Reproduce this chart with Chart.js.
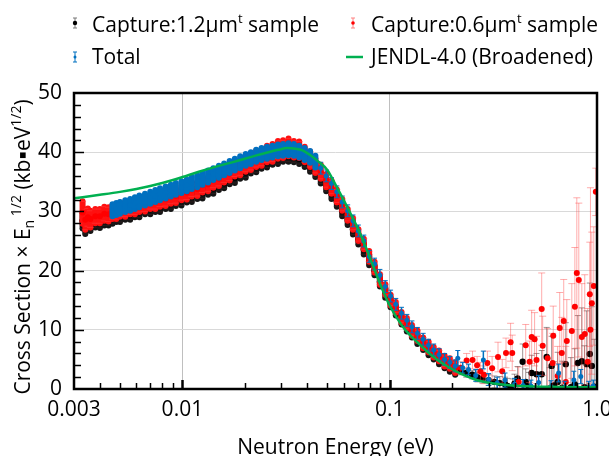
<!DOCTYPE html>
<html>
<head>
<meta charset="utf-8">
<script src="https://cdn.jsdelivr.net/npm/chart.js@4.4.1/dist/chart.umd.min.js"></script>
<style>
  html,body{margin:0;padding:0;background:#fff;}
  #cadre{width:609px;height:456px;}
</style>
</head>
<body>
<div id="cadre"><canvas id="graphe" width="609" height="456"></canvas></div>
<script>
/* ================= données ================= */
const xTicks = [0.003, 0.01, 0.1, 1];
const xTickLabels = ['0.003', '0.01', '0.1', '1.0'];

/* énergies communes (région dense) pour les deux captures */
const energyMain = [
  0.0033, 0.0034, 0.0035, 0.0036, 0.0038, 0.0040, 0.0042, 0.0044, 0.0046, 0.0048,
  0.0050, 0.0053, 0.0056, 0.0059, 0.0062, 0.0066, 0.0070, 0.0074, 0.0078, 0.0083,
  0.0088, 0.0093, 0.0099, 0.0105, 0.0111, 0.0118, 0.0125, 0.0133, 0.0141, 0.0150,
  0.0159, 0.0169, 0.0179, 0.0190, 0.0202, 0.0214, 0.0227, 0.0241, 0.0256, 0.0272,
  0.0289, 0.0306, 0.0325, 0.0345, 0.0366, 0.0389, 0.0413, 0.0438, 0.0465, 0.0494,
  0.0524, 0.0556, 0.0590, 0.0627, 0.0665, 0.0706, 0.0750, 0.0796, 0.0845, 0.0897,
  0.0952, 0.101, 0.107, 0.114, 0.121, 0.128, 0.136, 0.145, 0.154, 0.163,
  0.173, 0.184, 0.195, 0.207
];

/* Capture 1.2 µm */
const cap12Main = [
  28.4, 27.3, 27.8, 27.6, 28.2, 28.1, 28.5, 28.5, 28.8, 29.1,
  29.1, 29.5, 29.5, 29.9, 29.9, 30.4, 30.4, 30.8, 30.8, 31.3,
  31.3, 31.8, 31.9, 32.4, 32.5, 33.0, 33.1, 33.7, 33.9, 34.5,
  34.8, 35.5, 35.7, 36.4, 36.6, 37.3, 37.5, 38.1, 38.3, 38.8,
  38.9, 39.3, 39.3, 39.2, 38.9, 38.4, 37.6, 36.7, 35.6, 34.3,
  33.0, 31.7, 30.1, 28.6, 27.0, 25.3, 23.6, 21.8, 20.0, 18.1,
  16.2, 14.6, 13.2, 11.7, 10.5, 9.5, 8.4, 7.4, 6.5, 5.8,
  5.0, 4.3, 3.7, 3.2
];
const cap12MainErr = [
  1.3, 1.1, 1.0, 0.9, 0.9, 0.9, 0.9, 0.9, 0.9, 0.9,
  0.9, 0.9, 0.9, 0.9, 0.9, 0.9, 0.9, 0.9, 0.9, 0.9,
  0.9, 0.9, 0.9, 0.9, 0.9, 0.9, 0.9, 0.9, 0.9, 0.9,
  0.9, 0.9, 0.9, 0.9, 0.9, 0.9, 0.9, 0.9, 0.9, 0.9,
  0.9, 0.9, 0.9, 0.9, 0.9, 0.9, 0.9, 0.9, 0.9, 0.9,
  0.9, 0.9, 0.9, 0.9, 0.9, 0.9, 0.9, 0.9, 0.8, 0.8,
  0.8, 0.8, 0.8, 0.8, 0.8, 0.8, 0.8, 0.8, 0.8, 0.8,
  0.8, 0.8, 0.8, 0.8
];
const energyCap12Tail = [
  0.22, 0.234, 0.25, 0.265, 0.28, 0.30, 0.32, 0.34, 0.36, 0.37,
  0.392, 0.40, 0.414, 0.438, 0.453, 0.47, 0.484, 0.511, 0.541, 0.572,
  0.591, 0.604, 0.62, 0.646, 0.68, 0.707, 0.748, 0.78, 0.808, 0.845,
  0.87, 0.892, 0.923, 0.944, 0.97
];
const cap12Tail = [
  3.0, 2.7, 2.4, 2.0, 1.8, 1.5, 1.2, 1.0, 0.8, 0.5,
  0.2, 0.9, 1.8, 4.6, 1.2, 0.4, 2.7, 2.5, 2.5, 5.4,
  0.1, 3.9, 0.6, 1.2, 0.2, 4.2, 0.3, 0.8, 4.4, 4.7,
  0.3, 4.2, 5.9, 3.9, 0.4
];
const cap12TailErr = [
  0.6, 0.7, 0.7, 0.8, 0.8, 0.9, 1.0, 1.1, 1.2, 1.3,
  1.5, 1.6, 2.0, 3.0, 2.2, 2.4, 3.0, 3.5, 4.0, 5.0,
  3.5, 5.0, 4.0, 5.0, 4.5, 7.0, 5.0, 6.0, 8.0, 9.0,
  7.0, 9.0, 12.0, 10.0, 8.0
];

/* Capture 0.6 µm */
const cap06Main = [
  29.8, 28.6, 29.0, 28.7, 29.2, 29.2, 29.6, 29.5, 29.9, 29.9,
  30.3, 30.3, 30.7, 30.7, 31.1, 31.2, 31.6, 31.6, 32.0, 32.1,
  32.5, 32.6, 33.1, 33.2, 33.7, 33.8, 34.4, 34.6, 35.2, 35.5,
  36.1, 36.4, 37.1, 37.4, 38.0, 38.3, 38.9, 39.1, 39.7, 39.9,
  40.4, 40.5, 40.8, 40.5, 40.4, 39.6, 38.8, 37.7, 36.7, 35.2,
  34.1, 32.6, 31.1, 29.4, 27.9, 26.0, 24.5, 22.4, 20.6, 18.5,
  16.8, 15.0, 13.8, 12.1, 11.1, 9.9, 9.0, 7.8, 7.1, 6.2,
  5.6, 4.7, 4.3, 3.6
];
const cap06MainErr = [
  1.9, 1.7, 1.5, 1.4, 1.2, 1.2, 1.2, 1.2, 1.2, 1.2,
  1.2, 1.2, 1.2, 1.2, 1.2, 1.2, 1.2, 1.2, 1.2, 1.2,
  1.2, 1.2, 1.2, 1.2, 1.2, 1.2, 1.2, 1.2, 1.2, 1.2,
  1.2, 1.2, 1.2, 1.3, 1.3, 1.3, 1.4, 1.4, 1.4, 1.5,
  1.5, 1.5, 1.5, 1.4, 1.4, 1.3, 1.3, 1.2, 1.2, 1.1,
  1.1, 1.1, 1.0, 1.0, 1.0, 1.0, 0.9, 0.9, 0.9, 0.9,
  0.9, 0.9, 0.9, 0.9, 0.9, 0.9, 0.9, 0.9, 0.9, 0.9,
  0.9, 0.9, 0.9, 0.9
];
const energyCap06Tail = [
  0.22, 0.235, 0.251, 0.264, 0.274, 0.285, 0.296, 0.312, 0.333, 0.349,
  0.364, 0.383, 0.39, 0.419, 0.453, 0.473, 0.484, 0.50, 0.511, 0.541,
  0.547, 0.578, 0.611, 0.615, 0.646, 0.661, 0.676, 0.691, 0.707, 0.715,
  0.756, 0.782, 0.799, 0.817, 0.845, 0.873, 0.902, 0.923, 0.93, 0.944,
  0.965, 0.987
];
const cap06Tail = [
  3.6, 4.8, 4.9, 4.0, 3.0, 2.4, 4.4, 3.5, 5.4, 3.0,
  6.1, 7.9, 6.1, 1.2, 7.4, 4.6, 8.8, 8.4, 4.9, 13.5,
  7.3, 5.2, 4.4, 9.0, 2.2, 10.3, 6.1, 11.5, 1.2, 8.1,
  9.8, 13.9, 19.6, 18.4, 8.8, 9.3, 4.6, 16.0, 10.0, 14.5,
  17.4, 33.3
];
const cap06TailErr = [
  1.0, 1.2, 1.5, 1.5, 1.5, 1.5, 2.0, 2.0, 2.5, 2.0,
  2.5, 3.2, 3.0, 2.5, 3.5, 3.5, 4.5, 4.5, 4.0, 6.1,
  5.0, 5.0, 5.0, 5.0, 5.0, 6.0, 6.0, 7.0, 6.0, 7.0,
  8.0, 10.0, 12.7, 13.0, 9.0, 10.0, 9.0, 8.8, 24.0, 12.0,
  10.0, 4.0
];

/* Total */
const energyTotal = [
  0.0046, 0.0048, 0.0050, 0.0053, 0.0056, 0.0059, 0.0062, 0.0066, 0.0070, 0.0074,
  0.0078, 0.0083, 0.0088, 0.0093, 0.0099, 0.0105, 0.0111, 0.0118, 0.0125, 0.0133,
  0.0141, 0.0150, 0.0159, 0.0169, 0.0179, 0.0190, 0.0202, 0.0214, 0.0227, 0.0241,
  0.0256, 0.0272, 0.0289, 0.0306, 0.0325, 0.0345, 0.0366, 0.0389, 0.0413, 0.0438,
  0.0465, 0.0494, 0.0524, 0.0556, 0.0590, 0.0627, 0.0665, 0.0706, 0.0750, 0.0796,
  0.0845, 0.0897, 0.0952, 0.101, 0.107, 0.114, 0.121, 0.128, 0.136, 0.145,
  0.154, 0.163, 0.173, 0.184, 0.195, 0.207, 0.213, 0.225, 0.24, 0.26,
  0.283, 0.30, 0.33, 0.36, 0.40, 0.44, 0.48, 0.523, 0.60, 0.653,
  0.70, 0.773, 0.835, 0.912, 0.96
];
const total = [
  30.2, 30.4, 30.6, 30.9, 31.1, 31.4, 31.7, 32.0, 32.3, 32.6,
  32.9, 33.2, 33.5, 33.8, 34.1, 34.4, 34.8, 35.1, 35.5, 35.9,
  36.3, 36.7, 37.1, 37.5, 37.9, 38.3, 38.7, 39.0, 39.4, 39.7,
  39.9, 40.1, 40.3, 40.4, 40.5, 40.4, 40.1, 39.7, 39.2, 38.4,
  37.3, 36.0, 34.7, 33.3, 31.6, 30.1, 28.4, 26.7, 25.0, 22.4,
  21.1, 19.2, 17.3, 15.7, 14.3, 12.8, 11.6, 10.5, 9.4, 8.4,
  7.4, 6.6, 5.8, 5.0, 4.5, 3.9, 5.2, 3.6, 3.3, 2.3,
  4.9, 1.6, 1.0, 1.5, 0.8, 0.6, 0.5, 1.1, 0.4, 2.7,
  0.3, 1.5, 2.1, 0.3, 0.5
];
const totalErr = [
  1.0, 1.0, 1.0, 1.0, 1.0, 1.0, 1.0, 1.0, 1.0, 1.0,
  1.0, 1.0, 1.0, 1.0, 1.0, 1.0, 1.0, 1.0, 1.0, 1.0,
  1.0, 1.0, 1.0, 1.0, 1.0, 1.0, 1.0, 1.0, 1.0, 1.0,
  1.0, 1.0, 1.0, 1.0, 1.0, 1.0, 1.0, 1.0, 1.0, 1.0,
  1.0, 1.0, 1.0, 1.0, 1.0, 1.0, 1.0, 1.0, 1.0, 1.0,
  1.0, 1.0, 1.0, 1.0, 1.0, 1.0, 1.0, 1.0, 1.0, 1.0,
  1.0, 1.0, 1.0, 1.0, 1.0, 1.0, 1.3, 0.9, 0.9, 1.0,
  1.5, 1.0, 1.0, 1.2, 1.0, 1.0, 1.0, 1.2, 1.0, 1.5,
  1.0, 1.5, 1.2, 1.0, 1.0
];

/* JENDL-4.0 élargi */
const energyJendl = [
  0.003, 0.004, 0.005, 0.006, 0.007, 0.008, 0.009, 0.010, 0.012, 0.014,
  0.017, 0.020, 0.023, 0.026, 0.029, 0.032, 0.035, 0.038, 0.041, 0.045,
  0.050, 0.055, 0.060, 0.065, 0.070, 0.075, 0.080, 0.087, 0.093, 0.099,
  0.107, 0.117, 0.126, 0.136, 0.152, 0.170, 0.190, 0.220, 0.270, 0.340,
  0.430, 0.670, 1.0
];
const jendl = [
  32.2, 32.8, 33.3, 33.8, 34.3, 34.8, 35.3, 35.8, 36.7, 37.4,
  38.2, 38.9, 39.5, 40.0, 40.4, 40.7, 40.6, 40.3, 39.6, 38.5,
  37.0, 34.4, 31.9, 29.5, 27.2, 24.8, 22.3, 19.0, 16.5, 14.4,
  12.3, 10.3, 9.0, 7.9, 6.3, 4.9, 3.8, 2.6, 1.4, 0.8,
  0.5, 0.35, 0.3
];

/* ================= outils ================= */
const POLICE = '"Open Sans", Lato, sans-serif';
const pts = (xs, ys) => xs.map((x, i) => ({x, y: ys[i]}));

/* texte avec indices / exposants : segments [texte, taille, décalage vertical] */
function texteRiche(ctx, segs, x, y, centre){
  let w = 0;
  segs.forEach(s => { ctx.font = `${s[1]}px ${POLICE}`; w += ctx.measureText(s[0]).width; });
  let cx = centre ? x - w/2 : x;
  segs.forEach(s => { ctx.font = `${s[1]}px ${POLICE}`; ctx.fillText(s[0], cx, y + s[2]); cx += ctx.measureText(s[0]).width; });
}

function marqueErreur(ctx, x, y, h, couleurBarre, couleur, r){
  ctx.strokeStyle = couleurBarre; ctx.lineWidth = 1;
  ctx.beginPath();
  ctx.moveTo(x, y-h); ctx.lineTo(x, y+h);
  ctx.moveTo(x-2, y-h); ctx.lineTo(x+2, y-h);
  ctx.moveTo(x-2, y+h); ctx.lineTo(x+2, y+h);
  ctx.stroke();
  ctx.fillStyle = couleur;
  ctx.beginPath(); ctx.arc(x, y, r, 0, Math.PI*2); ctx.fill();
}

/* barres d'erreur dessinées juste avant les points de chaque série :
   épaisses dans la zone dense (bande continue), fines avec chapeaux ailleurs */
const barresErreur = {
  id: 'barresErreur',
  beforeDatasetDraw(chart, args){
    const ds = chart.data.datasets[args.index];
    if(!ds.erreurs) return;
    const {ctx, chartArea: a, scales: {x, y}} = chart;
    const c = ds.demiChapeau;
    ctx.save();
    ctx.beginPath(); ctx.rect(a.left, a.top, a.right - a.left, a.bottom - a.top); ctx.clip();
    ds.data.forEach((p, i) => {
      const e = ds.erreurs[i];
      if(!e) return;
      const px = x.getPixelForValue(p.x);
      const y1 = y.getPixelForValue(p.y + e), y2 = y.getPixelForValue(p.y - e);
      const dense = p.x < ds.limiteDense;
      ctx.strokeStyle = dense ? ds.couleurDense : ds.couleurErreur;
      ctx.lineWidth = dense ? ds.largeurDense : ds.largeurErreur;
      ctx.lineCap = dense ? 'round' : 'butt';
      ctx.beginPath(); ctx.moveTo(px, y1); ctx.lineTo(px, y2); ctx.stroke();
      ctx.strokeStyle = ds.couleurErreur; ctx.lineWidth = 1; ctx.lineCap = 'butt';
      ctx.beginPath();
      ctx.moveTo(px - c, y1); ctx.lineTo(px + c, y1);
      ctx.moveTo(px - c, y2); ctx.lineTo(px + c, y2);
      ctx.stroke();
    });
    ctx.restore();
  }
};

/* cadre, graduations intérieures, titres d'axes, légende */
const habillage = {
  id: 'habillage',
  afterDraw(chart){
    const {ctx, chartArea: a, scales: {x, y}} = chart;
    ctx.save();
    // graduations Y (tous les 2, longues tous les 10)
    ctx.strokeStyle = '#000'; ctx.lineWidth = 1.5;
    for(let v = 2; v < 50; v += 2){
      const py = Math.round(y.getPixelForValue(v)) + 0.5;
      const l = v % 10 === 0 ? 10 : 7;
      ctx.beginPath(); ctx.moveTo(a.left, py); ctx.lineTo(a.left + l, py); ctx.stroke();
    }
    // graduations X (log)
    [0.004,0.005,0.006,0.007,0.008,0.009,0.01,0.02,0.03,0.04,0.05,0.06,0.07,0.08,0.09,0.1,0.2,0.3,0.4,0.5,0.6,0.7,0.8,0.9].forEach(v => {
      const px = Math.round(x.getPixelForValue(v)) + 0.5;
      const maj = v === 0.01 || v === 0.1;
      ctx.lineWidth = maj ? 2.5 : 1.5;
      ctx.beginPath(); ctx.moveTo(px, a.bottom); ctx.lineTo(px, a.bottom - (maj ? 9 : 6)); ctx.stroke();
    });
    // cadre
    ctx.lineWidth = 2.5;
    ctx.strokeRect(a.left, a.top, a.right - a.left, a.bottom - a.top);

    // titres d'axes
    ctx.fillStyle = '#000'; ctx.textBaseline = 'alphabetic';
    texteRiche(ctx, [['Neutron Energy (eV)', 21, 0]], (a.left + a.right)/2, 454, true);
    ctx.save();
    ctx.translate(30, 247); ctx.rotate(-Math.PI/2);
    texteRiche(ctx, [
      ['Cross Section \u00d7 E', 21, 0], ['n', 14, 4], [' 1/2', 14, -9],
      [' (kb\u25aaeV', 21, 0], ['1/2', 14, -9], [')', 21, 0]
    ], 0, 0, true);
    ctx.restore();

    // légende
    marqueErreur(ctx, 75, 23, 5, '#777', '#000', 2.2);
    marqueErreur(ctx, 353, 23, 5, '#ff8080', '#ff0000', 1.8);
    marqueErreur(ctx, 75, 57, 5, '#0070c0', '#0070c0', 1.5);
    ctx.strokeStyle = '#00b050'; ctx.lineWidth = 2.5;
    ctx.beginPath(); ctx.moveTo(346, 57); ctx.lineTo(363, 57); ctx.stroke();
    ctx.fillStyle = '#000';
    texteRiche(ctx, [['Capture:1.2\u03bcm', 21, 0], ['t', 13, -9], [' sample', 21, 0]], 92, 32, false);
    texteRiche(ctx, [['Capture:0.6\u03bcm', 21, 0], ['t', 13, -9], [' sample', 21, 0]], 371, 32, false);
    texteRiche(ctx, [['Total', 21, 0]], 92, 64, false);
    texteRiche(ctx, [['JENDL-4.0 (Broadened)', 21, 0]], 371, 64, false);
    ctx.restore();
  }
};

/* ================= graphe ================= */
new Chart(document.getElementById('graphe'), {
  type: 'scatter',
  data: {datasets: [
    {label: 'Capture:1.2μm sample', data: pts(energyMain.concat(energyCap12Tail), cap12Main.concat(cap12Tail)),
     erreurs: cap12MainErr.concat(cap12TailErr), limiteDense: 0.21,
     couleurDense: '#151515', largeurDense: 6, couleurErreur: 'rgba(70,40,40,0.5)', largeurErreur: 1, demiChapeau: 3,
     pointRadius: 3.2, pointBackgroundColor: '#000', pointBorderWidth: 0, order: 4},
    {label: 'Capture:0.6μm sample', data: pts(energyMain.concat(energyCap06Tail), cap06Main.concat(cap06Tail)),
     erreurs: cap06MainErr.concat(cap06TailErr), limiteDense: 0.21,
     couleurDense: '#ff1010', largeurDense: 6, couleurErreur: 'rgba(255,70,70,0.45)', largeurErreur: 1, demiChapeau: 3.5,
     pointRadius: 3, pointBackgroundColor: '#ff0000', pointBorderWidth: 0, order: 3},
    {label: 'Total', data: pts(energyTotal, total),
     erreurs: totalErr, limiteDense: 0.045,
     couleurDense: '#0070c0', largeurDense: 6, couleurErreur: '#0070c0', largeurErreur: 1.5, demiChapeau: 2.5,
     pointRadius: 2.5, pointBackgroundColor: '#0070c0', pointBorderWidth: 0, order: 2},
    {label: 'JENDL-4.0 (Broadened)', data: pts(energyJendl, jendl), showLine: true,
     borderColor: '#00b050', borderWidth: 2.5, pointRadius: 0, cubicInterpolationMode: 'monotone', order: 1}
  ]},
  options: {
    responsive: false, animation: false, devicePixelRatio: 1,
    layout: {padding: {left: 0, top: 93, right: 12, bottom: 0}},
    plugins: {legend: {display: false}, tooltip: {enabled: false}},
    scales: {
      x: {type: 'logarithmic', min: 0.003, max: 1,
          afterBuildTicks: s => { s.ticks = xTicks.map(v => ({value: v})); },
          afterFit: s => { s.height = 67; s.paddingLeft = 0; s.paddingRight = 0; },
          ticks: {callback: (v, i) => xTickLabels[i], autoSkip: false, maxRotation: 0,
                  font: {family: POLICE, size: 21}, color: '#000', padding: 8},
          grid: {color: '#bfbfbf', lineWidth: 1, drawTicks: false}, border: {display: false}},
      y: {min: 0, max: 50,
          afterFit: s => { s.width = 74; },
          ticks: {stepSize: 10, font: {family: POLICE, size: 21}, color: '#000', padding: 12},
          grid: {color: '#d9d9d9', lineWidth: 1, drawTicks: false}, border: {display: false}}
    }
  },
  plugins: [barresErreur, habillage]
});
</script>
</body>
</html>
